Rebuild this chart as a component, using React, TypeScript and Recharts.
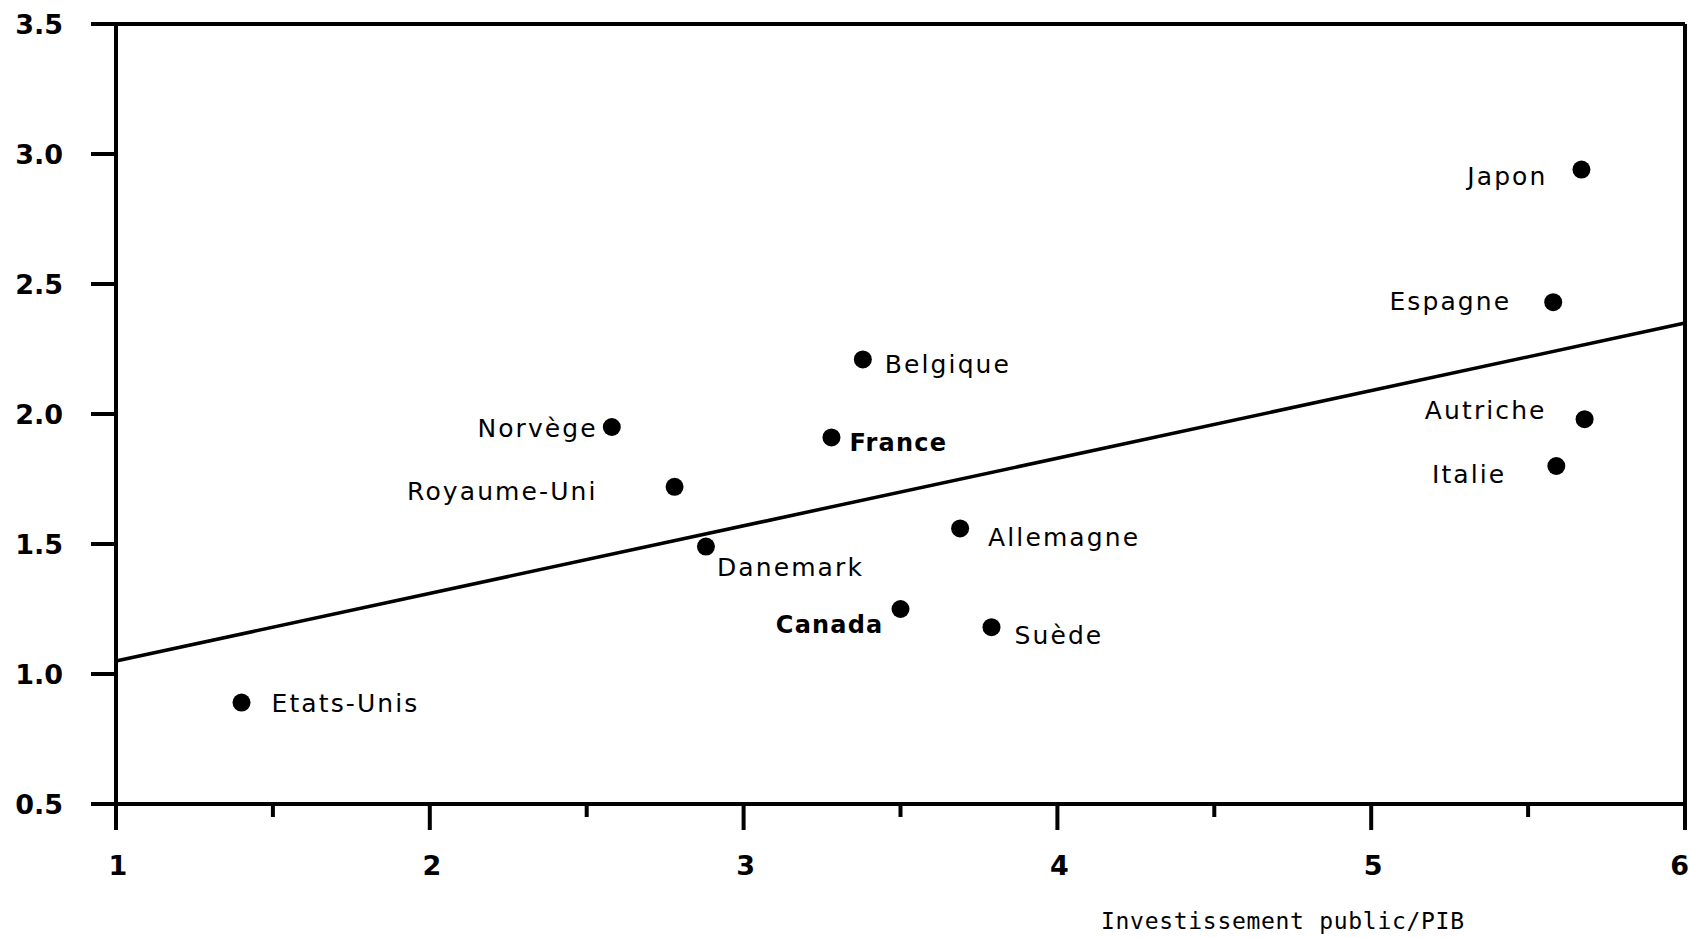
import React from "react";
import { ScatterChart, Scatter, XAxis, YAxis, ReferenceLine } from "recharts";

// ---- Data ----
const countries = [
  "Etats-Unis", "Norvège", "Royaume-Uni", "Danemark", "Belgique", "France", "Canada",
  "Allemagne", "Suède", "Japon", "Espagne", "Autriche", "Italie",
];
const investmentGdp = [1.4, 2.58, 2.78, 2.88, 3.38, 3.28, 3.5, 3.69, 3.79, 5.67, 5.58, 5.68, 5.59];
const growth = [0.89, 1.95, 1.72, 1.49, 2.21, 1.91, 1.25, 1.56, 1.18, 2.94, 2.43, 1.98, 1.8];
const trendX = [1, 6];
const trendY = [1.05, 2.35];
const xTicks = [1, 1.5, 2, 2.5, 3, 3.5, 4, 4.5, 5, 5.5, 6];
const yTicks = [0.5, 1, 1.5, 2, 2.5, 3, 3.5];
const xAxisTitle = "Investissement public/PIB";
const boldCountries = ["France", "Canada"];

// ---- Label placement (layout only) ----
const labelPlacement: Record<string, { dx: number; dy: number; anchor: "start" | "end" }> = {
  "Etats-Unis": { dx: 30, dy: 0, anchor: "start" },
  "Norvège": { dx: -14, dy: 1, anchor: "end" },
  "Royaume-Uni": { dx: -77, dy: 4, anchor: "end" },
  "Danemark": { dx: 11, dy: 20, anchor: "start" },
  "Belgique": { dx: 22, dy: 5, anchor: "start" },
  "France": { dx: 18, dy: 5, anchor: "start" },
  "Canada": { dx: -17, dy: 15, anchor: "end" },
  "Allemagne": { dx: 28, dy: 9, anchor: "start" },
  "Suède": { dx: 23, dy: 8, anchor: "start" },
  "Japon": { dx: -34, dy: 6, anchor: "end" },
  "Espagne": { dx: -42, dy: -1, anchor: "end" },
  "Autriche": { dx: -38, dy: -9, anchor: "end" },
  "Italie": { dx: -50, dy: 8, anchor: "end" },
};

const data = countries.map((name, i) => ({ name, x: investmentGdp[i], y: growth[i] }));

const PointShape = (props: any) => {
  const { cx, cy, payload } = props;
  const p = labelPlacement[payload.name] || { dx: 15, dy: 0, anchor: "start" };
  const bold = boldCountries.includes(payload.name);
  return (
    <g>
      <circle cx={cx} cy={cy} r={9} fill="#000" />
      <text
        x={cx + p.dx}
        y={cy + p.dy}
        dy="0.36em"
        textAnchor={p.anchor}
        fontFamily="'DejaVu Sans', sans-serif"
        fontWeight={bold ? 700 : 400}
        fontSize={bold ? 24 : 25}
        letterSpacing={bold ? 1.2 : 2.1}
        fill="#000"
      >
        {payload.name}
      </text>
    </g>
  );
};

const XTick = (props: any) => {
  const { x, y, payload } = props;
  const v = payload.value as number;
  const major = Number.isInteger(v);
  const last = v === 6;
  return (
    <g>
      <line x1={x} x2={x} y1={y} y2={y + (major ? 26 : 13)} stroke="#000" strokeWidth={4} />
      {major && (
        <text
          x={last ? x + 4 : x + 2}
          y={y + 71}
          textAnchor={last ? "end" : "middle"}
          fontFamily="'DejaVu Sans', sans-serif"
          fontWeight={700}
          fontSize={27}
          fill="#000"
        >
          {v}
        </text>
      )}
    </g>
  );
};

export default function App() {
  return (
    <div style={{ position: "absolute", left: 0, top: 0, width: 1690, height: 938, background: "#fff" }}>
      <ScatterChart width={1690} height={938} margin={{ top: 24, right: 5, left: 0, bottom: 0 }}>
        <XAxis
          type="number"
          dataKey="x"
          domain={[1, 6]}
          ticks={xTicks}
          interval={0}
          allowDataOverflow
          height={134}
          tickSize={0}
          tickMargin={0}
          tickLine={false}
          axisLine={{ stroke: "#000", strokeWidth: 4 }}
          tick={<XTick />}
        />
        <YAxis
          type="number"
          dataKey="y"
          domain={[0.5, 3.5]}
          ticks={yTicks}
          interval={0}
          allowDataOverflow
          width={116}
          tickSize={25}
          tickMargin={28}
          tickLine={{ stroke: "#000", strokeWidth: 4 }}
          axisLine={{ stroke: "#000", strokeWidth: 4 }}
          tickFormatter={(v: number) => v.toFixed(1)}
          tick={{ fill: "#000", fontSize: 27, fontWeight: 700, fontFamily: "'DejaVu Sans', sans-serif" }}
        />
        <ReferenceLine y={3.5} stroke="#000" strokeWidth={4} />
        <ReferenceLine x={6} stroke="#000" strokeWidth={4} />
        <ReferenceLine
          segment={[
            { x: trendX[0], y: trendY[0] },
            { x: trendX[1], y: trendY[1] },
          ]}
          stroke="#000"
          strokeWidth={3.5}
        />
        <Scatter data={data} shape={<PointShape />} isAnimationActive={false} />
        <text
          x={1101}
          y={921}
          dy="0.36em"
          fontFamily="'DejaVu Sans Mono', monospace"
          fontSize={23}
          letterSpacing={0.7}
          fill="#000"
        >
          {xAxisTitle}
        </text>
      </ScatterChart>
    </div>
  );
}
